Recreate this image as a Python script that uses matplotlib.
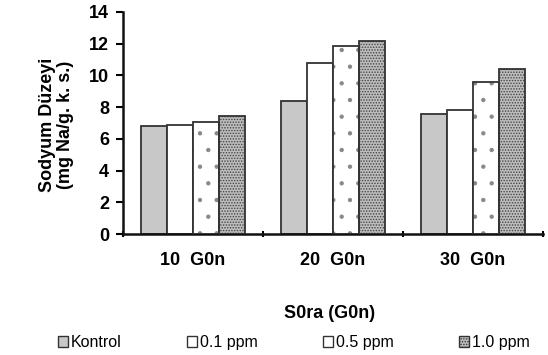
import matplotlib
matplotlib.use("Agg")
import matplotlib.pyplot as plt
from matplotlib.patches import Patch
import numpy as np

plt.rcParams['font.family'] = ['Liberation Sans', 'DejaVu Sans']
plt.rcParams['hatch.linewidth'] = 0.7

categories = ["10  G0n", "20  G0n", "30  G0n"]
series = ["Kontrol", "0.1 ppm", "0.5 ppm", "1.0 ppm"]
kontrol = [6.8, 8.4, 7.55]
ppm01 = [6.9, 10.8, 7.85]
ppm05 = [7.05, 11.85, 9.6]
ppm10 = [7.45, 12.15, 10.4]
yticks = [0, 2, 4, 6, 8, 10, 12, 14]

values = [kontrol, ppm01, ppm05, ppm10]
faces = ['#c8c8c8', 'white', 'white', '#bdbdbd']
hatches = [None, None, '.', '......']
hatch_cols = [None, None, '#888888', '#444444']

fig = plt.figure(figsize=(5.48, 3.55), dpi=100)
ax = fig.add_axes([0.2245, 0.3408, 0.7664, 0.6254])

x = np.arange(len(categories))
w = 0.186
handles = []
for i, (vals, fc, h, hc) in enumerate(zip(values, faces, hatches, hatch_cols)):
    pos = x + (i - 1.5) * w
    if h:
        ax.bar(pos, vals, w, color=fc, hatch=h, edgecolor=hc, linewidth=0, zorder=2)
        ax.bar(pos, vals, w, fill=False, edgecolor='#333333', linewidth=1.3, zorder=3)
    else:
        ax.bar(pos, vals, w, color=fc, edgecolor='#333333', linewidth=1.3, zorder=2)
    handles.append(Patch(facecolor=fc, edgecolor='#333333', hatch=h, linewidth=1.0))

ax.set_xlim(-0.5, 2.5)
ax.set_ylim(0, 14)
ax.set_yticks(yticks)
ax.set_yticklabels([str(t) for t in yticks], fontsize=13, fontweight='bold')
ax.set_xticks([-0.5, 0.5, 1.5, 2.5])
ax.set_xticklabels([])
ax.set_xticks(x, minor=True)
ax.set_xticklabels(categories, minor=True, fontsize=13, fontweight='bold')
ax.tick_params(axis='x', which='minor', length=0, pad=13)
ax.tick_params(axis='x', which='major', length=5, width=1.5, direction='inout')
ax.tick_params(axis='y', length=5, width=1.5, direction='out', pad=5)
for s in ['top', 'right']:
    ax.spines[s].set_visible(False)
for s in ['left', 'bottom']:
    ax.spines[s].set_linewidth(1.8)
    ax.spines[s].set_color('#111111')

fig.text(0.103, 0.648, "Sodyum Düzeyi\n(mg Na/g. k. s.)", rotation=90,
         ha='center', va='center', fontsize=13, fontweight='bold', linespacing=1.05)
fig.text(0.602, 0.118, "S0ra (G0n)", ha='center', va='center', fontsize=13, fontweight='bold')

fig.legend(handles, series, loc='center', bbox_to_anchor=(0.536, 0.035), ncol=4,
           frameon=False, fontsize=11.5, handlelength=0.6, handleheight=0.6,
           handletextpad=0.2, columnspacing=4.1)

fig.savefig("out.png", dpi=100)
